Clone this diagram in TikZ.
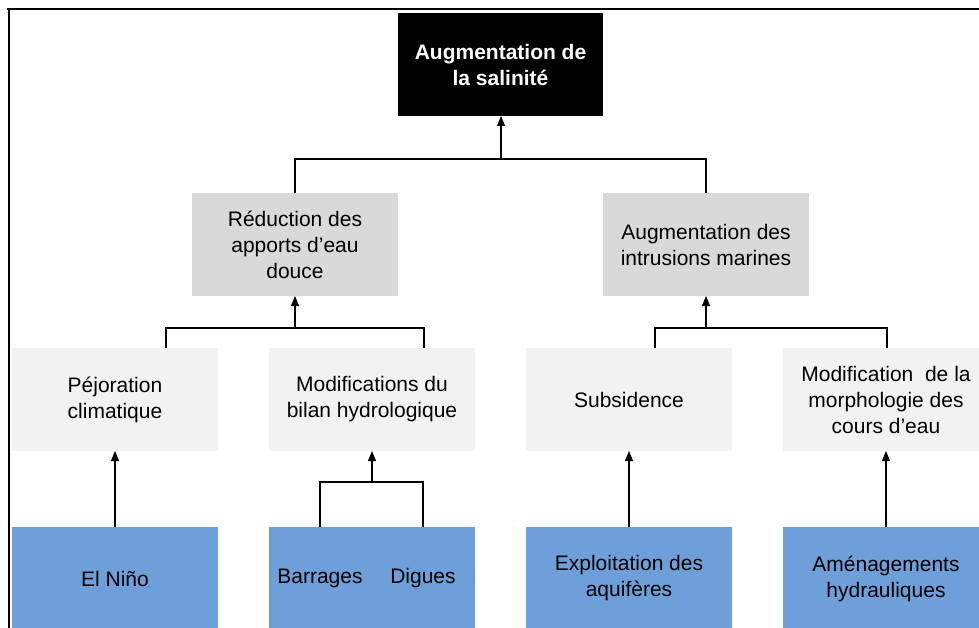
\documentclass[tikz,border=0pt]{standalone}
\usepackage{fontspec}
\setmainfont{Liberation Sans}
\usetikzlibrary{arrows.meta,positioning}
\definecolor{boxgray}{HTML}{D9D9D9}
\definecolor{boxlight}{HTML}{F2F2F2}
\definecolor{boxblue}{HTML}{6F9FD8}

\begin{document}
\begin{tikzpicture}[x=1pt,y=-1pt,>={Triangle[length=10pt,width=8pt]},line width=1.1pt,
  every node/.style={font=\fontsize{21}{26}\selectfont,align=center,inner sep=0pt,outer sep=0pt},
  box/.style={minimum width=206pt,minimum height=103pt},
  topbox/.style={box,minimum width=205pt,fill=black,text=white,font=\fontsize{21}{26}\selectfont\bfseries},
  causebox/.style={box,fill=boxgray},
  factbox/.style={box,fill=boxlight},
  driverbox/.style={box,fill=boxblue}]
\useasboundingbox (0,0) rectangle (979,628);
% frame
\draw[line width=2pt] (7,9) -- (979,9);
\draw[line width=2pt] (9,8) -- (9,628);

\node[topbox] (sal) at (500.5,64.5) {Augmentation de\\la salinité};
\node[causebox] (red) at (295,244.5) {Réduction des\\apports d’eau\\douce};
\node[causebox] (intr) at (706,244.5) {Augmentation des\\intrusions marines};

\node[factbox] (pej) at (115,399.5) {Péjoration\\climatique};
\node[factbox,right=51pt of pej] (bilan) {Modifications du\\bilan hydrologique};
\node[factbox,right=51pt of bilan] (subs) {Subsidence};
\node[factbox,right=51pt of subs] (morph) {Modification\ \ de la\\morphologie des\\cours d’eau};

\node[driverbox,below=76pt of pej] (nino) {El Niño};
\node[driverbox,below=76pt of bilan] (bd) {};
\node at (320,578) (barr) {Barrages};
\node at (423,578) (dig) {Digues};
\node[driverbox,below=76pt of subs] (aqui) {Exploitation des\\aquifères};
\node[driverbox,below=76pt of morph] (amen) {Aménagements\\hydrauliques};

\coordinate (jtop) at (501,159);
\coordinate (jl1) at (166,328);
\coordinate (jl2) at (424,328);
\coordinate (jr1) at (655,328);
\coordinate (jr2) at (887,328);
\coordinate (jbd) at (372,482);

% causes -> salinite
\draw (red.north) |- (jtop) -| (intr.north);
\draw[->] (jtop) -- (jtop |- sal.south);
% facteurs -> causes
\draw (jl1 |- pej.north) -- (jl1) -- (jl2) -- (jl2 |- bilan.north);
\draw[->] (red.south |- jl1) -- (red.south);
\draw (jr1 |- subs.north) -- (jr1) -- (jr2) -- (jr2 |- morph.north);
\draw[->] (intr.south |- jr1) -- (intr.south);
% moteurs -> facteurs
\draw[->] (nino) -- (pej);
\draw (barr |- bd.north) |- (jbd) -| (dig |- bd.north);
\draw[->] (jbd) -- (jbd |- bilan.south);
\draw[->] (aqui) -- (subs);
\draw[->] (amen) -- (morph);
\end{tikzpicture}
\end{document}
